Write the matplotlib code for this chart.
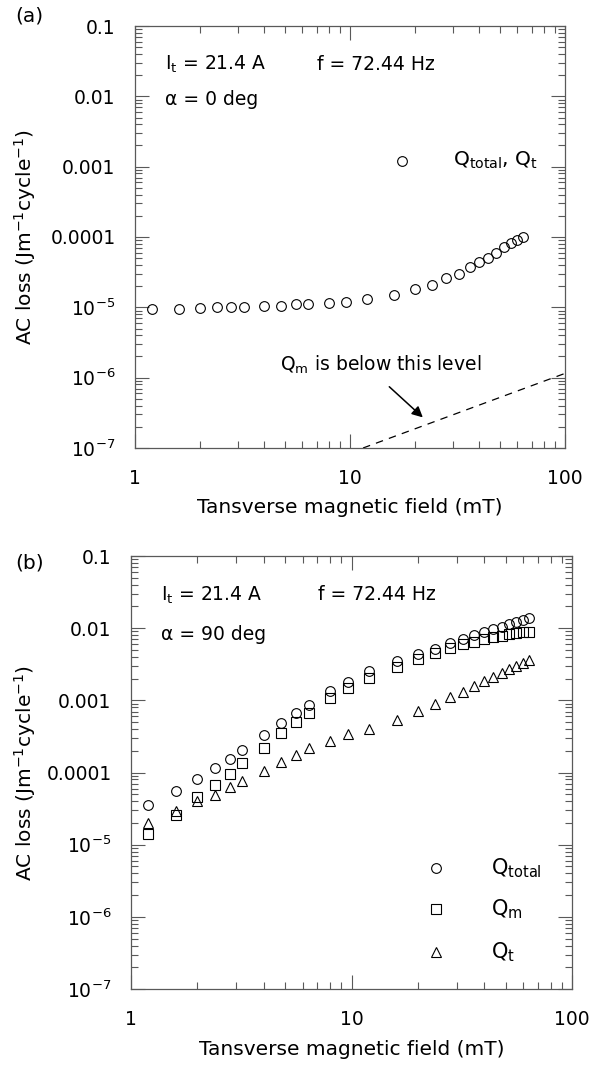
import matplotlib
matplotlib.use('Agg')
import matplotlib.pyplot as plt
from matplotlib.ticker import LogLocator, FixedLocator, NullFormatter

# transverse field (mT), same for both panels
field = [1.2, 1.6, 2.0, 2.4, 2.8, 3.2, 4.0, 4.8, 5.6, 6.4, 8.0, 9.6, 12,
         16, 20, 24, 28, 32, 36, 40, 44, 48, 52, 56, 60, 64]

# (a) alpha = 0 deg, total loss
q_total_a = [9.5e-6, 9.4e-6, 9.9e-6, 1.0e-5, 1.0e-5, 1.0e-5, 1.05e-5, 1.05e-5,
             1.1e-5, 1.1e-5, 1.15e-5, 1.2e-5, 1.33e-5, 1.5e-5, 1.82e-5, 2.1e-5,
             2.6e-5, 3.0e-5, 3.7e-5, 4.4e-5, 5.1e-5, 6.0e-5, 7.1e-5, 8.2e-5,
             9.1e-5, 1.0e-4]
# Q_m detection level (dashed line)
qm_level_x = [11.5, 100]
qm_level_y = [1e-7, 1.15e-6]

# (b) alpha = 90 deg
q_total_b = [3.5e-5, 5.6e-5, 8.1e-5, 1.14e-4, 1.56e-4, 2.04e-4, 3.3e-4, 4.8e-4,
             6.7e-4, 8.7e-4, 1.34e-3, 1.8e-3, 2.57e-3, 3.5e-3, 4.4e-3, 5.1e-3,
             6.2e-3, 7.0e-3, 8.0e-3, 8.9e-3, 9.8e-3, 1.05e-2, 1.13e-2, 1.2e-2,
             1.29e-2, 1.37e-2]
q_m_b = [1.41e-5, 2.58e-5, 4.6e-5, 6.7e-5, 9.6e-5, 1.34e-4, 2.2e-4, 3.5e-4,
         5.0e-4, 6.7e-4, 1.07e-3, 1.47e-3, 2.05e-3, 2.87e-3, 3.7e-3, 4.5e-3,
         5.25e-3, 6.0e-3, 6.5e-3, 7.1e-3, 7.5e-3, 7.8e-3, 8.2e-3, 8.5e-3,
         8.8e-3, 8.9e-3]
q_t_b = [2.0e-5, 2.9e-5, 4.0e-5, 4.9e-5, 6.3e-5, 7.6e-5, 1.06e-4, 1.41e-4,
         1.74e-4, 2.17e-4, 2.76e-4, 3.4e-4, 4.0e-4, 5.3e-4, 7.2e-4, 8.9e-4,
         1.12e-3, 1.31e-3, 1.58e-3, 1.86e-3, 2.1e-3, 2.37e-3, 2.7e-3, 3.0e-3,
         3.3e-3, 3.6e-3]

y_ticks = [1e-7, 1e-6, 1e-5, 1e-4, 1e-3, 1e-2, 1e-1]
y_ticklabels = ['$10^{-7}$', '$10^{-6}$', '$10^{-5}$', '0.0001', '0.001', '0.01', '0.1']
x_ticks = [1, 10, 100]
x_ticklabels = ['1', '10', '100']

plt.rcParams['font.family'] = ['DejaVu Sans']
plt.rcParams['mathtext.default'] = 'regular'

fig = plt.figure(figsize=(5.89, 10.68), dpi=100)
ax_a = fig.add_axes([135/589, 1 - 448/1068, 430/589, 422/1068])
ax_b = fig.add_axes([131/589, 1 - 989/1068, 441/589, 433/1068])

mk = dict(linestyle='none', markerfacecolor='none', markeredgecolor='k',
          markeredgewidth=0.8, markersize=7)
fs = 13.5


def style_axes(ax, ypad, xpad):
    ax.set_xscale('log')
    ax.set_yscale('log')
    ax.set_xlim(1, 100)
    ax.set_ylim(1e-7, 0.1)
    ax.xaxis.set_major_locator(FixedLocator(x_ticks))
    ax.set_xticklabels(x_ticklabels)
    ax.yaxis.set_major_locator(FixedLocator(y_ticks))
    ax.set_yticklabels(y_ticklabels)
    ax.xaxis.set_minor_locator(LogLocator(base=10, subs=range(2, 10)))
    ax.yaxis.set_minor_locator(LogLocator(base=10, subs=range(2, 10)))
    ax.xaxis.set_minor_formatter(NullFormatter())
    ax.yaxis.set_minor_formatter(NullFormatter())
    ax.tick_params(which='both', direction='in', top=True, right=True,
                   color='0.35', width=0.8)
    ax.tick_params(which='major', length=10, labelsize=fs)
    ax.tick_params(which='minor', length=5)
    ax.tick_params(axis='y', which='major', pad=ypad)
    ax.tick_params(axis='x', which='major', pad=xpad)
    for s in ax.spines.values():
        s.set_color('0.35')
        s.set_linewidth(0.9)
    ax.set_xlabel('Tansverse magnetic field (mT)', fontsize=14.5)
    ax.set_ylabel('AC loss (Jm$^{-1}$cycle$^{-1}$)', fontsize=14.5)


# ---- panel (a)
style_axes(ax_a, 14, 15)
ax_a.plot(field, q_total_a, marker='o', **mk)
ax_a.plot(qm_level_x, qm_level_y, color='k', lw=0.9, linestyle=(0, (6, 5)))
ax_a.text(4.73, 1.5e-6, 'Q$_m$ is below this level', fontsize=fs,
          ha='left', va='center')
ax_a.annotate('', xy=(22.3, 2.56e-7), xytext=(14.9, 7.9e-7),
              arrowprops=dict(arrowstyle='-|>', color='k', lw=1.1,
                              mutation_scale=16))
ax_a.text(0.07, 0.908, 'I$_t$ = 21.4 A', transform=ax_a.transAxes,
          fontsize=fs, va='center')
ax_a.text(0.4225, 0.908, 'f = 72.44 Hz', transform=ax_a.transAxes,
          fontsize=fs, va='center')
ax_a.text(0.07, 0.825, '\u03b1 = 0 deg', transform=ax_a.transAxes,
          fontsize=fs, va='center')
ax_a.plot([0.62], [0.681], marker='o', transform=ax_a.transAxes, **mk)
ax_a.text(0.74, 0.681, 'Q$_{total}$, Q$_t$', transform=ax_a.transAxes,
          fontsize=14.5, va='center')
ax_a.xaxis.set_label_coords(0.5, -0.118)
ax_a.yaxis.set_label_coords(-0.225, 0.5)

# ---- panel (b)
style_axes(ax_b, 14, 15)
ax_b.plot(field, q_total_b, marker='o', **mk)
ax_b.plot(field, q_m_b, marker='s', **mk)
ax_b.plot(field, q_t_b, marker='^', **mk)
ax_b.text(0.068, 0.91, 'I$_t$ = 21.4 A', transform=ax_b.transAxes,
          fontsize=fs, va='center')
ax_b.text(0.425, 0.91, 'f = 72.44 Hz', transform=ax_b.transAxes,
          fontsize=fs, va='center')
ax_b.text(0.068, 0.8176, '\u03b1 = 90 deg', transform=ax_b.transAxes,
          fontsize=fs, va='center')
leg_y = [0.279, 0.184, 0.086]
leg_marker = ['o', 's', '^']
leg_text = ['Q$_{total}$', 'Q$_m$', 'Q$_t$']
for yy, m, t in zip(leg_y, leg_marker, leg_text):
    ax_b.plot([0.692], [yy], marker=m, transform=ax_b.transAxes, **mk)
    ax_b.text(0.816, yy, t, transform=ax_b.transAxes, fontsize=15, va='center')
ax_b.xaxis.set_label_coords(0.5, -0.117)
ax_b.yaxis.set_label_coords(-0.21, 0.5)

fig.text(15/589, 1 - 16/1068, '(a)', fontsize=14.5, va='center', ha='left')
fig.text(15/589, 1 - 563/1068, '(b)', fontsize=14.5, va='center', ha='left')

fig.savefig('out.png', dpi=100)
